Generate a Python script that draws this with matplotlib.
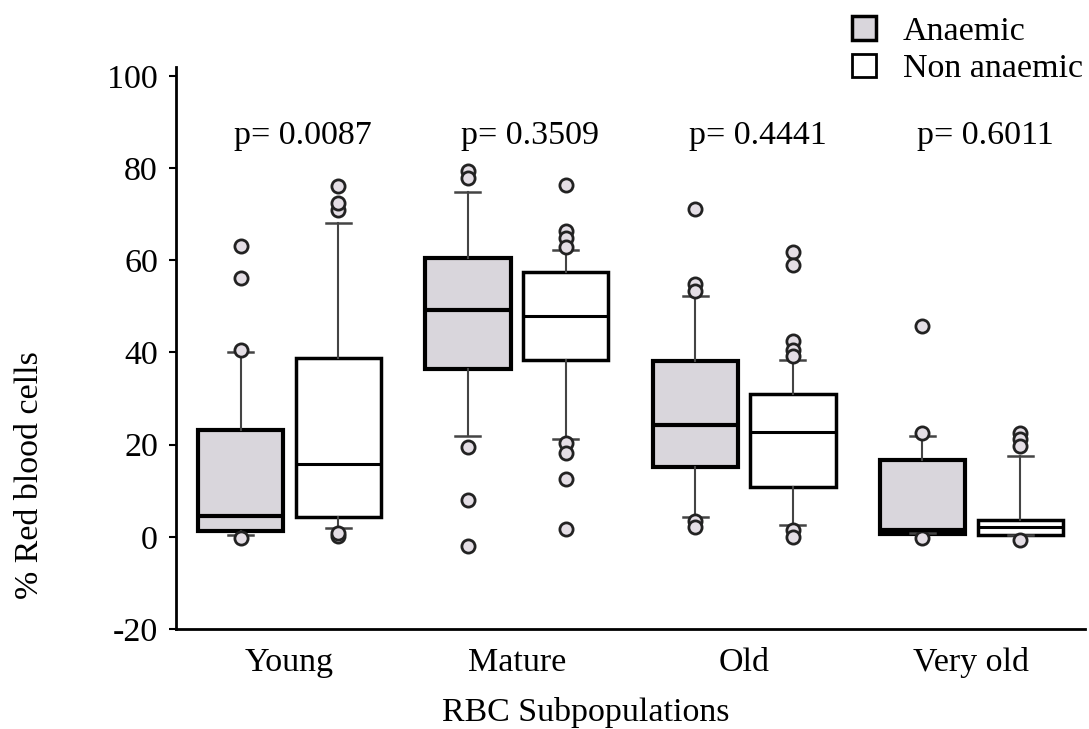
import matplotlib
matplotlib.use('Agg')
import matplotlib.pyplot as plt
from matplotlib.patches import Patch

plt.rcParams['font.family'] = ['Liberation Serif', 'DejaVu Serif']
plt.rcParams['axes.unicode_minus'] = False

groups = ['Young', 'Mature', 'Old', 'Very old']
p_values = ['p= 0.0087', 'p= 0.3509', 'p= 0.4441', 'p= 0.6011']

# Anaemic
an_whislo = [0.3, 21.9, 4.4, 0.9]
an_q1 = [1.2, 36.5, 15.1, 0.6]
an_med = [4.6, 49.2, 24.2, 1.5]
an_q3 = [23.2, 60.4, 38.1, 16.7]
an_whishi = [40.0, 74.8, 52.2, 21.9]
an_fliers = [[-0.2, 40.6, 56.1, 63.2],
             [79.4, 77.8, 19.4, 8.0, -2.0],
             [71.1, 54.9, 53.3, 3.5, 2.2],
             [45.8, 22.6, -0.2]]

# Non anaemic
na_whislo = [2.0, 21.2, 2.6, 0.5]
na_q1 = [4.4, 38.3, 10.8, 0.5]
na_med = [15.8, 47.9, 22.7, 2.1]
na_q3 = [38.8, 57.5, 30.9, 3.7]
na_whishi = [68.1, 62.2, 38.3, 17.6]
na_fliers = [[0.2, 0.9, 70.8, 72.4, 76.2],
             [76.4, 66.3, 64.8, 62.8, 20.3, 18.2, 12.6, 1.6],
             [61.8, 58.9, 42.5, 40.6, 39.2, 1.4, 0.0],
             [22.6, 21.2, 19.8, -0.6]]

an_color = '#d9d6dc'
FS = 24.5


def make_stats(wlo, q1, med, q3, whi, fl):
    return [dict(whislo=a, q1=b, med=c, q3=d, whishi=e, fliers=f)
            for a, b, c, d, e, f in zip(wlo, q1, med, q3, whi, fl)]


fig = plt.figure(figsize=(10.89, 7.29), dpi=100)
ax = fig.add_axes([0.1616, 0.1372, 0.8347, 0.7713])

pos = range(1, len(groups) + 1)
off = 0.215
w = 0.375
flier = dict(marker='o', markersize=9.5, markerfacecolor='#e4dee5',
             markeredgecolor='#222222', markeredgewidth=2, linestyle='none')

ax.bxp(make_stats(an_whislo, an_q1, an_med, an_q3, an_whishi, an_fliers),
       positions=[p - off for p in pos], widths=w, patch_artist=True,
       boxprops=dict(facecolor=an_color, edgecolor='black', linewidth=3),
       medianprops=dict(color='black', linewidth=3),
       whiskerprops=dict(color='#444444', linewidth=1.5),
       capprops=dict(color='#444444', linewidth=1.8),
       capwidths=0.11, flierprops=flier)

ax.bxp(make_stats(na_whislo, na_q1, na_med, na_q3, na_whishi, na_fliers),
       positions=[p + off for p in pos], widths=w, patch_artist=True,
       boxprops=dict(facecolor='white', edgecolor='black', linewidth=2.5),
       medianprops=dict(color='black', linewidth=2.2),
       whiskerprops=dict(color='#444444', linewidth=1.5),
       capprops=dict(color='#444444', linewidth=1.8),
       capwidths=0.11, flierprops=flier)

for p, txt in zip(pos, p_values):
    ax.text(p + 0.06, 87, txt, ha='center', va='center', fontsize=FS)

ax.set_xlim(0.5, 4.5)
ax.set_ylim(-20, 102)
ax.set_yticks([-20, 0, 20, 40, 60, 80, 100])
ax.set_xticks(list(pos))
ax.set_xticklabels(groups)
ax.tick_params(axis='y', labelsize=FS, length=5, width=1.5, pad=8)
ax.tick_params(axis='x', labelsize=FS, length=0, pad=13)
for s in ['top', 'right']:
    ax.spines[s].set_visible(False)
for s in ['left', 'bottom']:
    ax.spines[s].set_linewidth(2)

fig.text(30 / 1089, 1 - 475 / 729, '% Red blood cells', rotation=90,
         ha='center', va='center', fontsize=FS)
fig.text(586 / 1089, 1 - 713 / 729, 'RBC Subpopulations',
         ha='center', va='center', fontsize=FS)

handles = [Patch(facecolor=an_color, edgecolor='black', linewidth=2.5, label='Anaemic'),
           Patch(facecolor='white', edgecolor='black', linewidth=2, label='Non anaemic')]
fig.legend(handles=handles, loc='upper left', bbox_to_anchor=(852 / 1089, 1 - 16 / 729),
           frameon=False, fontsize=FS, handlelength=0.7, handleheight=0.7,
           handletextpad=0.8, labelspacing=0.2, borderpad=0, borderaxespad=0)

fig.savefig('out.png', dpi=100)
